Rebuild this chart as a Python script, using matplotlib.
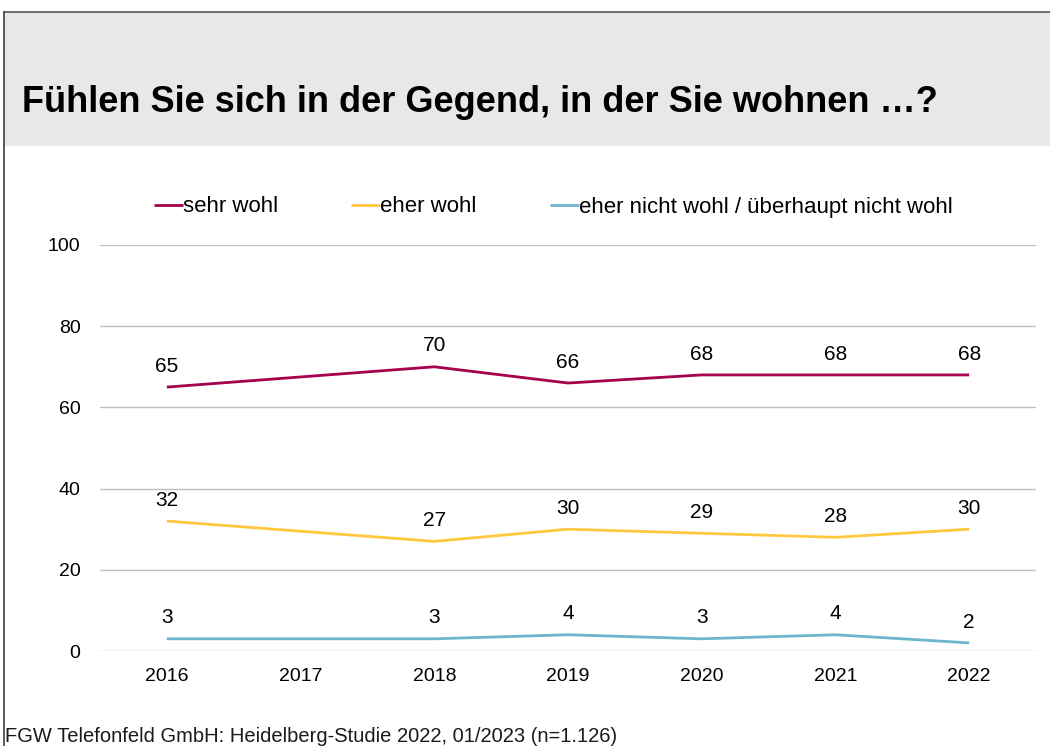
import matplotlib
matplotlib.use("Agg")
import matplotlib.pyplot as plt
from matplotlib.patches import Rectangle
from matplotlib.lines import Line2D

years = ["2016", "2017", "2018", "2019", "2020", "2021", "2022"]
data_years = ["2016", "2018", "2019", "2020", "2021", "2022"]
sehr_wohl = [65, 70, 66, 68, 68, 68]
eher_wohl = [32, 27, 30, 29, 28, 30]
nicht_wohl = [3, 3, 4, 3, 4, 2]
series_names = ["sehr wohl", "eher wohl", "eher nicht wohl / überhaupt nicht wohl"]
colors = ["#A6004F", "#FFC83D", "#6DB5CF"]
title = "Fühlen Sie sich in der Gegend, in der Sie wohnen …?"
footer = "FGW Telefonfeld GmbH: Heidelberg-Studie 2022, 01/2023 (n=1.126)"

plt.rcParams['font.family'] = ['Liberation Sans', 'DejaVu Sans']

W, H = 1050, 746
fig = plt.figure(figsize=(W / 100, H / 100), dpi=100)

# header band and borders
fig.patches.append(Rectangle((4 / W, 1 - 146 / H), 1, (146 - 12) / H,
                             transform=fig.transFigure, facecolor="#E8E8E8",
                             edgecolor="none", zorder=0))
fig.add_artist(Line2D([3.5 / W, 1], [1 - 11.5 / H, 1 - 11.5 / H],
                      transform=fig.transFigure, color="#595959", lw=1.2))
fig.add_artist(Line2D([3.5 / W, 3.5 / W], [0, 1 - 11.5 / H],
                      transform=fig.transFigure, color="#404040", lw=1.2))

fig.text(22 / W, 1 - 103 / H, title, fontsize=26, fontweight="bold",
         va="center", ha="left", color="black")
fig.text(5 / W, 1 - 736 / H, footer, fontsize=14.5, va="center", ha="left",
         color="#1a1a1a")

ax = fig.add_axes([100 / W, 1 - 651 / H, (1036 - 100) / W, (651 - 245) / H])
xpos = {y: i for i, y in enumerate(years)}
xs = [xpos[y] for y in data_years]

for vals, name, c in zip([sehr_wohl, eher_wohl, nicht_wohl], series_names, colors):
    ax.plot(xs, vals, color=c, lw=2.0, label=name, solid_capstyle="butt")
    for x, v in zip(xs, vals):
        ax.annotate(str(v), (x, v), xytext=(0, 15), textcoords="offset points",
                    ha="center", va="center", fontsize=15, color="black")

ax.set_xlim(-0.5, len(years) - 0.5)
ax.set_ylim(0, 100)
ax.set_xticks(range(len(years)))
ax.set_xticklabels(years)
ax.set_yticks([0, 20, 40, 60, 80, 100])
ax.tick_params(axis="both", length=0, labelsize=14, colors="black")
ax.tick_params(axis="y", pad=14)
ax.tick_params(axis="x", pad=12)
ax.grid(axis="y", color="#BFBFBF", lw=1)
ax.set_axisbelow(True)
for s in ax.spines.values():
    s.set_visible(False)
ax.set_facecolor("none")

leg = ax.legend(loc="center", bbox_to_anchor=(553 / W, 1 - 207 / H),
                bbox_transform=fig.transFigure, ncol=3, frameon=False,
                fontsize=16, handlelength=1.3, handletextpad=0.0,
                columnspacing=3.3)

fig.savefig("out.png", dpi=100)
